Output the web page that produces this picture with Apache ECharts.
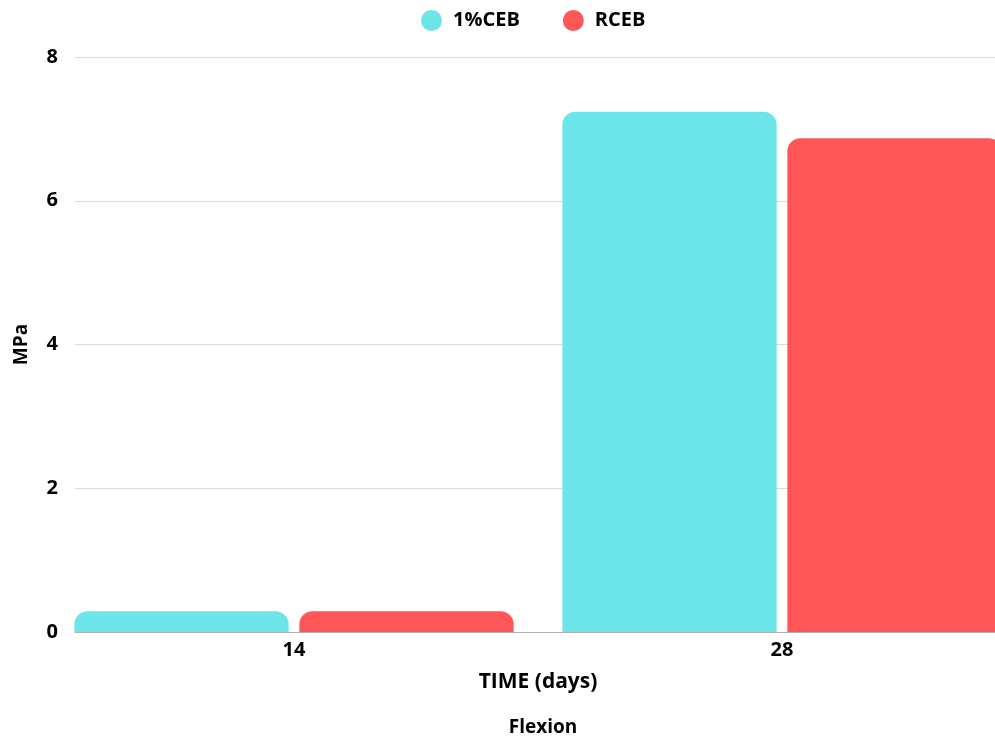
<!DOCTYPE html>
<html>
<head>
<meta charset="utf-8">
<script src="https://cdn.jsdelivr.net/npm/echarts@6/dist/echarts.min.js"></script>
<style>
  html, body { margin: 0; padding: 0; background: #ffffff; }
  #chart { width: 995px; height: 740px; }
</style>
</head>
<body>
<div id="chart"></div>
<script>
// Flexural strength (MPa) at curing age
const categories = ['14', '28'];
const seriesNames = ['1%CEB', 'RCEB'];
const ceb1Values = [0.29, 7.24];
const rcebValues = [0.29, 6.87];
const yTicks = [0, 2, 4, 6, 8];

const colors = ['#6ce5e8', '#ff5757'];
const font = '"Open Sans", "DejaVu Sans", sans-serif';

const chart = echarts.init(document.getElementById('chart'), null, { renderer: 'canvas' });

const option = {
  animation: false,
  color: colors,
  textStyle: { fontFamily: font },
  legend: {
    top: 5,
    left: 416,
    icon: 'circle',
    itemWidth: 21,
    itemHeight: 21,
    itemGap: 43,
    data: seriesNames,
    textStyle: { fontFamily: font, fontWeight: 'bold', fontSize: 20, color: '#000', padding: [0, 0, 0, 6] }
  },
  title: {
    text: 'Flexion',
    left: 538,
    top: 713,
    textAlign: 'center',
    textStyle: { fontFamily: font, fontWeight: 'bold', fontSize: 19, color: '#000' }
  },
  grid: [
    // bar band layout (extends past the right edge)
    { left: 50, width: 976, top: 57, height: 575, containLabel: false, outerBoundsMode: 'none' },
    // axis frame and gridlines
    { left: 75, right: 0, top: 57, height: 575, containLabel: false, outerBoundsMode: 'none' }
  ],
  xAxis: [
    {
      gridIndex: 0,
      type: 'category',
      data: categories,
      name: 'TIME (days)',
      nameLocation: 'middle',
      nameGap: 40,
      nameTextStyle: { fontFamily: font, fontWeight: 'bold', fontSize: 21, color: '#000' },
      axisLine: { show: false },
      axisTick: { show: false },
      axisLabel: { margin: 8, fontFamily: font, fontWeight: 'bold', fontSize: 20, color: '#000' },
      splitLine: { show: false }
    },
    {
      gridIndex: 1,
      type: 'value',
      min: 0,
      max: 1,
      axisLine: { show: true, onZero: false, lineStyle: { color: '#b3b3b3', width: 1 } },
      axisTick: { show: false },
      axisLabel: { show: false },
      splitLine: { show: false }
    }
  ],
  yAxis: [
    {
      gridIndex: 0,
      type: 'value',
      min: yTicks[0],
      max: yTicks[yTicks.length - 1],
      interval: 2,
      show: false
    },
    {
      gridIndex: 1,
      type: 'value',
      min: yTicks[0],
      max: yTicks[yTicks.length - 1],
      interval: 2,
      name: 'MPa',
      nameLocation: 'middle',
      nameGap: 44,
      nameRotate: 90,
      nameTextStyle: { fontFamily: font, fontWeight: 'bold', fontSize: 19, color: '#000' },
      axisLine: { show: false },
      axisTick: { show: false },
      axisLabel: { margin: 17, fontFamily: font, fontWeight: 'bold', fontSize: 20, color: '#000' },
      splitLine: { show: true, lineStyle: { color: '#d9d9d9', width: 1 } }
    }
  ],
  series: [
    {
      name: seriesNames[0],
      type: 'bar',
      xAxisIndex: 0,
      yAxisIndex: 0,
      data: ceb1Values,
      barGap: '5%',
      barCategoryGap: '10%',
      itemStyle: { color: colors[0], borderRadius: [13, 13, 0, 0] },
      z: 3
    },
    {
      name: seriesNames[1],
      type: 'bar',
      xAxisIndex: 0,
      yAxisIndex: 0,
      data: rcebValues,
      barGap: '5%',
      barCategoryGap: '10%',
      itemStyle: { color: colors[1], borderRadius: [13, 13, 0, 0] },
      z: 3
    }
  ]
};

chart.setOption(option);
</script>
</body>
</html>
